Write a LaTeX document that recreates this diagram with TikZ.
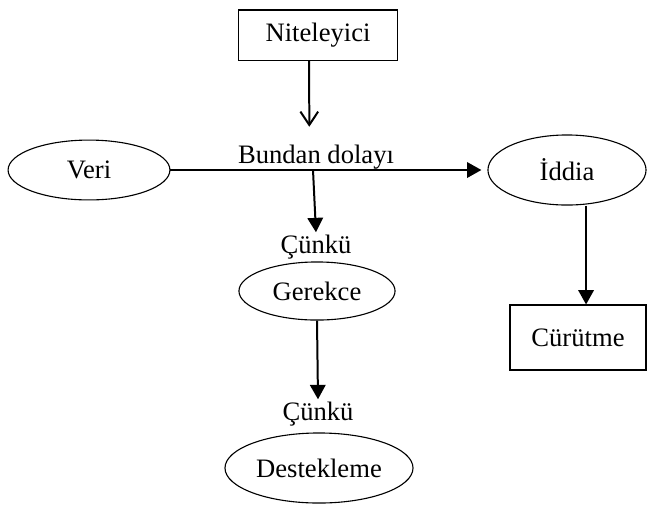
\documentclass[tikz,border=0pt]{standalone}
\usepackage{fontspec}
\setmainfont{Liberation Serif}
\usetikzlibrary{arrows.meta,shapes.geometric}

\tikzset{
  oval/.style={draw, ellipse, line width=0.5pt, inner sep=0pt},
  box/.style={draw, rectangle, line width=0.5pt, inner sep=0pt},
  word/.style={inner sep=1pt},
  tri/.style={-{Triangle[length=6.5pt,width=7pt]}, line width=0.9pt},
  barb/.style={-{Straight Barb[length=6pt,width=8pt]}, line width=0.9pt}
}

\begin{document}
\begin{tikzpicture}[x=0.451pt, y=-0.451pt, font=\fontsize{12}{14}\selectfont]

% Fix the page size
\useasboundingbox (0,0) rectangle (648,504);

% Draw the nodes
\node[box, minimum width=71.7pt, minimum height=22.6pt] (nit) at (318,35) {Niteleyici};
\node[oval, minimum width=73pt, minimum height=27pt] (veri) at (89,170) {Veri};
\node[oval, minimum width=71.3pt, minimum height=31.6pt] (iddia) at (567,170) {İddia};
\node[oval, minimum width=70.4pt, minimum height=26.2pt] (ger) at (317,291) {Gerekce};
\node[oval, minimum width=84.8pt, minimum height=31.6pt] (dest) at (319,468) {Destekleme};
\node[box, minimum width=61.3pt, minimum height=29.3pt] (cur) at (578,337.5) {Cürütme};

% Draw the labels
\node[word] (bd) at (316,157) {Bundan dolayı};
\node[word] (c1) at (316,247) {Çünkü};
\node[word] (c2) at (318,414) {Çünkü};
\coordinate (j) at (313,170);

% Draw the arrows
\draw[barb, shorten >=7pt] ([xshift=-4pt]nit.south) -- ([xshift=-3pt]bd.north);
\draw[tri, shorten >=2.7pt] (veri.east) -- (iddia.west);
\draw[tri] (j) -- (c1.north);
\draw[tri] (ger.south) -- (c2.north);
\draw[tri] ([xshift=8.6pt]iddia.south) -- ([xshift=8.6pt]iddia.south |- cur.north);

\end{tikzpicture}
\end{document}
